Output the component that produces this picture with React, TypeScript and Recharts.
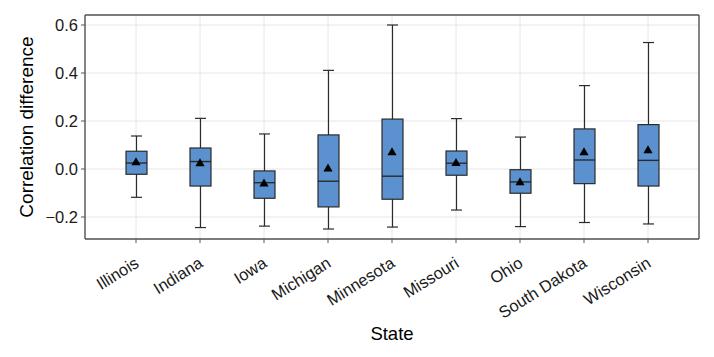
import { ComposedChart, Bar, Scatter, XAxis, YAxis, CartesianGrid, Label } from 'recharts';

const states = ['Illinois', 'Indiana', 'Iowa', 'Michigan', 'Minnesota', 'Missouri', 'Ohio', 'South Dakota', 'Wisconsin'];
const whiskerLow = [-0.118, -0.244, -0.238, -0.25, -0.242, -0.171, -0.24, -0.223, -0.229];
const q1 = [-0.022, -0.071, -0.122, -0.158, -0.126, -0.026, -0.101, -0.061, -0.071];
const median = [0.025, 0.031, -0.057, -0.051, -0.03, 0.024, -0.054, 0.0375, 0.036];
const q3 = [0.074, 0.0875, -0.008, 0.142, 0.208, 0.075, -0.003, 0.167, 0.185];
const whiskerHigh = [0.1375, 0.211, 0.146, 0.411, 0.6, 0.21, 0.133, 0.3475, 0.527];
const mean = [0.028, 0.024, -0.06, 0.002, 0.07, 0.025, -0.055, 0.07, 0.078];
const yTicks = [-0.2, 0, 0.2, 0.4, 0.6];

const data = states.map((state, i) => ({
  state,
  low: whiskerLow[i],
  q1: q1[i],
  median: median[i],
  q3: q3[i],
  high: whiskerHigh[i],
  mean: mean[i],
}));

const Y_DOMAIN = [-0.2917, 0.6417];
const BOX_FILL = '#5B91CF';
const DARK = '#2b2b2b';
const FRAME = '#555';
const FONT = '"Liberation Sans", Arial, sans-serif';

// one range bar from low to high whisker; box, median and caps are placed on it
function BoxShape(props: any) {
  const { x, y, width, height, payload } = props;
  if (payload == null || height == null) return null;
  const top = Math.min(y, y + height);
  const bottom = Math.max(y, y + height);
  const span = payload.high - payload.low;
  const py = (v: number) => top + ((payload.high - v) / span) * (bottom - top);
  const cx = x + width / 2;
  const cap = 5.5;
  return (
    <g>
      <line x1={cx} x2={cx} y1={top} y2={bottom} stroke={DARK} strokeWidth={1.2} />
      <line x1={cx - cap} x2={cx + cap} y1={top} y2={top} stroke={DARK} strokeWidth={1.2} />
      <line x1={cx - cap} x2={cx + cap} y1={bottom} y2={bottom} stroke={DARK} strokeWidth={1.2} />
      <rect
        x={x}
        y={py(payload.q3)}
        width={width}
        height={py(payload.q1) - py(payload.q3)}
        fill={BOX_FILL}
        stroke={DARK}
        strokeWidth={1.2}
      />
      <line x1={x} x2={x + width} y1={py(payload.median)} y2={py(payload.median)} stroke={DARK} strokeWidth={1.4} />
    </g>
  );
}

function MeanShape(props: any) {
  const { cx, cy } = props;
  if (cx == null || cy == null) return null;
  return <path d={`M${cx},${cy - 5} L${cx + 4.6},${cy + 3} L${cx - 4.6},${cy + 3} Z`} fill="#000" />;
}

function StateTick(props: any) {
  const { x, y, payload } = props;
  const ax = x + 4;
  const ay = y + 21;
  return (
    <text
      x={ax}
      y={ay}
      transform={`rotate(-32, ${ax}, ${ay})`}
      textAnchor="end"
      fontSize={16.5}
      fontFamily={FONT}
      fill="#1a1a1a"
    >
      {payload.value}
    </text>
  );
}

function fmtY(v: number) {
  const s = Math.abs(v).toFixed(1);
  return v < -1e-9 ? `\u2212${s}` : s;
}

export default function App() {
  return (
    <div style={{ position: 'absolute', left: 0, top: 0, background: '#fff' }}>
      <ComposedChart width={714} height={357} data={data} margin={{ top: 14, right: 14, left: 0, bottom: 0 }}>
        <CartesianGrid stroke="#e6e6e6" strokeWidth={1} />
        <XAxis
          dataKey="state"
          type="category"
          padding={{ left: 19, right: 19 }}
          height={118}
          interval={0}
          tick={<StateTick />}
          tickSize={4}
          axisLine={{ stroke: FRAME, strokeWidth: 1.4 }}
          tickLine={{ stroke: FRAME }}
        >
          <Label
            content={(p: any) => {
              const vb = p.viewBox;
              return (
                <text x={vb.x + vb.width / 2} y={vb.y + 101} textAnchor="middle" fontSize={18.5} fontFamily={FONT} fill="#000">
                  State
                </text>
              );
            }}
          />
        </XAxis>
        <XAxis
          xAxisId="top"
          dataKey="state"
          type="category"
          orientation="top"
          padding={{ left: 19, right: 19 }}
          height={1}
          tick={false}
          tickLine={false}
          axisLine={{ stroke: FRAME, strokeWidth: 1.4 }}
        />
        <YAxis
          domain={Y_DOMAIN}
          ticks={yTicks}
          tickFormatter={fmtY}
          width={85}
          tickSize={4}
          tickMargin={3}
          tick={{ fontSize: 16.5, fontFamily: FONT, fill: '#1a1a1a' }}
          axisLine={{ stroke: FRAME, strokeWidth: 1.4 }}
          tickLine={{ stroke: FRAME }}
          allowDataOverflow
        >
          <Label
            content={(p: any) => {
              const vb = p.viewBox;
              const cx = 26;
              const cy = vb.y + vb.height / 2;
              return (
                <text
                  x={cx}
                  y={cy}
                  transform={`rotate(-90, ${cx}, ${cy})`}
                  textAnchor="middle"
                  dominantBaseline="central"
                  fontSize={19}
                  fontFamily={FONT}
                  fill="#000"
                >
                  Correlation difference
                </text>
              );
            }}
          />
        </YAxis>
        <YAxis
          yAxisId="right"
          orientation="right"
          domain={Y_DOMAIN}
          allowDataOverflow
          width={1}
          tick={false}
          tickLine={false}
          axisLine={{ stroke: FRAME, strokeWidth: 1.4 }}
        />
        <Bar
          dataKey={(d: any) => [d.low, d.high]}
          barSize={21}
          shape={<BoxShape />}
          isAnimationActive={false}
        />
        <Scatter
          dataKey="mean"
          xAxisId="top"
          yAxisId="right"
          shape={<MeanShape />}
          isAnimationActive={false}
        />
      </ComposedChart>
    </div>
  );
}
